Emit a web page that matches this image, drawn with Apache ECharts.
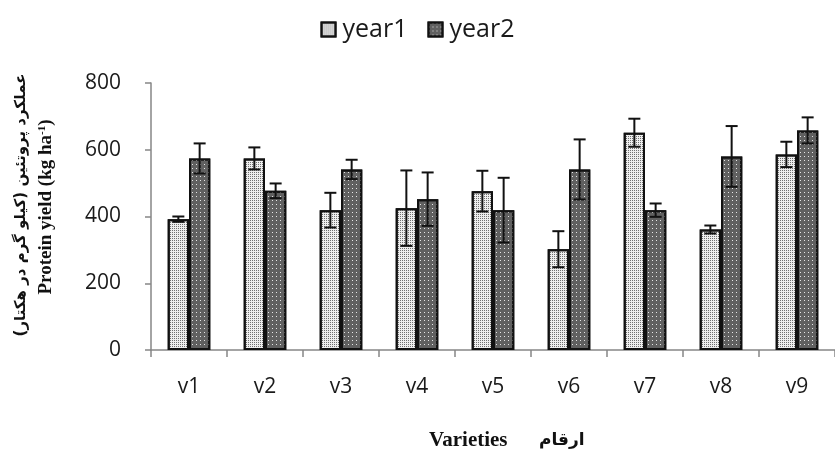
<!DOCTYPE html>
<html>
<head>
<meta charset="utf-8">
<script src="https://cdn.jsdelivr.net/npm/echarts@6/dist/echarts.min.js"></script>
<style>
  html, body { margin: 0; padding: 0; background: #fff; }
  #chart { width: 835px; height: 451px; }
</style>
</head>
<body>
<div id="chart"></div>
<script>
// 品种与两年蛋白产量
var varieties = ['v1', 'v2', 'v3', 'v4', 'v5', 'v6', 'v7', 'v8', 'v9'];
var year1 = [392, 574, 419, 425, 476, 302, 651, 361, 586];
var year2 = [574, 477, 541, 452, 419, 541, 419, 580, 658];
var err1 = [8, 33, 52, 113, 61, 54, 42, 12, 38];
var err2 = [45, 22, 29, 80, 97, 90, 20, 91, 39];
var yTicks = [0, 200, 400, 600, 800];

var axisColor = '#868686';
var textFont = '"Open Sans", sans-serif';

function errData(vals, errs) {
    var out = [];
    for (var i = 0; i < vals.length; i++) {
        out.push([i, vals[i], errs[i]]);
    }
    return out;
}

// side: -1 左柱, 1 右柱
function errRender(side) {
    return function (params, api) {
        var cat = api.value(0), v = api.value(1), e = api.value(2);
        var band = api.size([1, 0])[0];
        var barW = band * 0.28;
        var top = api.coord([cat, v + e]);
        var bot = api.coord([cat, v - e]);
        var x = top[0] + side * barW / 2;
        var cap = 6;
        var st = { stroke: '#111', lineWidth: 2 };
        return {
            type: 'group',
            children: [
                { type: 'line', shape: { x1: x, y1: top[1], x2: x, y2: bot[1] }, style: st },
                { type: 'line', shape: { x1: x - cap, y1: top[1], x2: x + cap, y2: top[1] }, style: st },
                { type: 'line', shape: { x1: x - cap, y1: bot[1], x2: x + cap, y2: bot[1] }, style: st }
            ]
        };
    };
}

var myChart = echarts.init(document.getElementById('chart'));
var option = {
    animation: false,
    legend: {
        data: ['year1', 'year2'],
        icon: 'rect',
        top: 12,
        left: 'center',
        itemWidth: 14,
        itemHeight: 14,
        itemGap: 20,
        textStyle: { fontFamily: textFont, fontSize: 25, color: '#1a1a1a', padding: [0, 0, 0, 2] }
    },
    grid: { left: 151, top: 83, width: 691, height: 267 },
    xAxis: {
        type: 'category',
        data: varieties,
        axisLine: { lineStyle: { color: axisColor, width: 1.5 } },
        axisTick: { show: true, length: 7, lineStyle: { color: axisColor, width: 1.5 } },
        axisLabel: { fontFamily: textFont, fontSize: 21, color: '#1a1a1a', margin: 27 }
    },
    yAxis: {
        type: 'value',
        min: yTicks[0],
        max: yTicks[yTicks.length - 1],
        interval: 200,
        axisLine: { show: true, lineStyle: { color: axisColor, width: 1.5 } },
        axisTick: { show: true, length: 6, lineStyle: { color: axisColor, width: 1.5 } },
        splitLine: { show: false },
        axisLabel: { fontFamily: textFont, fontSize: 21, color: '#1a1a1a', margin: 30 }
    },
    graphic: [
        {
            type: 'text', x: 21, y: 205, rotation: Math.PI / 2,
            style: {
                text: 'عملکرد پروتئین (کیلو گرم در هکتار)',
                font: 'bold 15px "DejaVu Sans", serif',
                fill: '#111', align: 'center', verticalAlign: 'middle'
            }
        },
        {
            type: 'text', x: 46, y: 207, rotation: Math.PI / 2,
            style: {
                text: 'Protein yield (kg ha{sup|-1})',
                font: 'bold 19px "Liberation Serif", serif',
                fill: '#111', align: 'center', verticalAlign: 'middle',
                rich: { sup: { font: 'bold 11px "Liberation Serif", serif', fill: '#111', verticalAlign: 'top', padding: [0, 0, 8, 0] } }
            }
        },
        {
            type: 'text', x: 429, y: 441,
            style: {
                text: 'Varieties',
                font: 'bold 21px "Liberation Serif", serif',
                fill: '#111', verticalAlign: 'middle'
            }
        },
        {
            type: 'text', x: 539, y: 441,
            style: {
                text: 'ارقام',
                font: 'bold 17px "DejaVu Sans", serif',
                fill: '#111', verticalAlign: 'middle'
            }
        }
    ],
    series: [
        {
            name: 'year1',
            type: 'bar',
            data: year1,
            barGap: '0%',
            barCategoryGap: '44%',
            itemStyle: {
                color: '#eeeeee',
                borderColor: '#111',
                borderWidth: 2,
                decal: { symbol: 'rect', symbolSize: 1, dashArrayX: [1, 1], dashArrayY: [1, 1], color: '#707070', rotation: 0 }
            }
        },
        {
            name: 'year2',
            type: 'bar',
            data: year2,
            itemStyle: {
                color: '#606060',
                borderColor: '#111',
                borderWidth: 2,
                decal: { symbol: 'rect', symbolSize: 1, dashArrayX: [1, 3], dashArrayY: [1, 3], color: '#e6e6e6', rotation: 0 }
            }
        },
        {
            name: 'err1', type: 'custom', z: 5,
            renderItem: errRender(-1),
            data: errData(year1, err1)
        },
        {
            name: 'err2', type: 'custom', z: 5,
            renderItem: errRender(1),
            data: errData(year2, err2)
        }
    ]
};
myChart.setOption(option);
</script>
</body>
</html>
